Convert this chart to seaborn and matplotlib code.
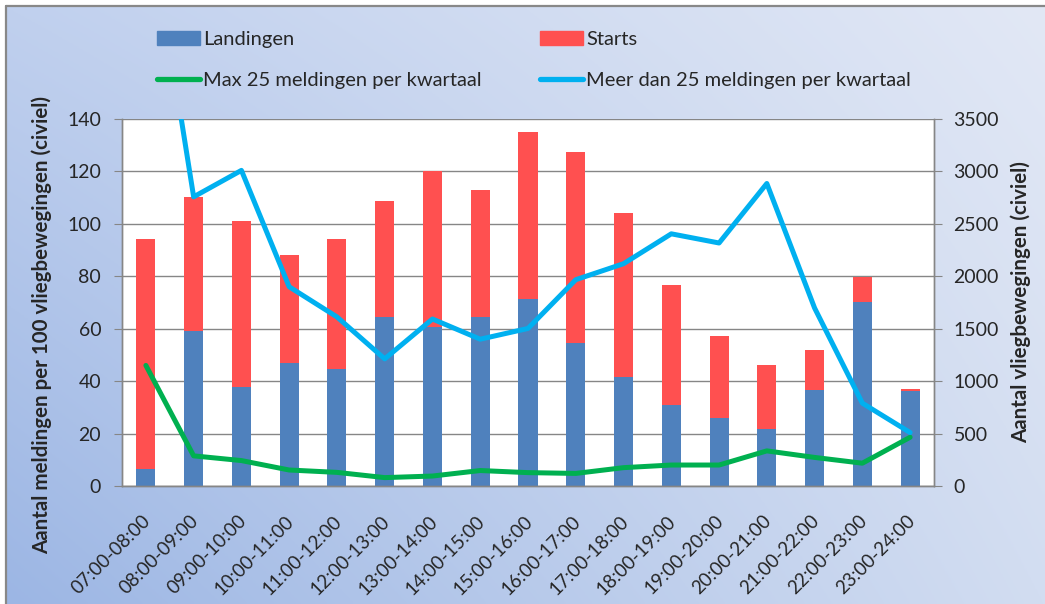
import numpy as np
import pandas as pd
import seaborn as sns
import matplotlib.pyplot as plt
import matplotlib.transforms as mtrans
from matplotlib.patches import Patch
from matplotlib.lines import Line2D

# data
uren = ['07:00-08:00', '08:00-09:00', '09:00-10:00', '10:00-11:00', '11:00-12:00',
        '12:00-13:00', '13:00-14:00', '14:00-15:00', '15:00-16:00', '16:00-17:00',
        '17:00-18:00', '18:00-19:00', '19:00-20:00', '20:00-21:00', '21:00-22:00',
        '22:00-23:00', '23:00-24:00']
landingen = [159, 1480, 945, 1175, 1117, 1610, 1521, 1610, 1782, 1359,
             1044, 773, 652, 541, 917, 1750, 910]
starts = [2196, 1276, 1579, 1028, 1238, 1108, 1487, 1216, 1591, 1824,
          1559, 1140, 777, 614, 381, 246, 13]
max25 = [46, 11.5, 9.7, 6.1, 5.2, 3.2, 3.8, 5.9, 5.1, 4.8,
         7.0, 8.0, 8.0, 13.4, 10.9, 8.7, 18.6]
meer25 = [225, 110.3, 120.4, 76.0, 64.5, 48.5, 63.7, 56.0, 60.1, 78.7,
          84.8, 96.2, 92.7, 115.4, 67.9, 31.6, 20.4]

df = pd.DataFrame({'uur': uren, 'landingen': landingen,
                   'totaal': np.add(landingen, starts),
                   'max25': max25, 'meer25': meer25})

sns.set_style('white')
plt.rcParams['font.family'] = ['Lato', 'DejaVu Sans']

BLAUW = '#4F81BD'
ROOD = '#FF5050'
GROEN = '#00B050'
CYAAN = '#00B0F0'
GRIJS = '#868686'
W, H = 1045, 604

fig = plt.figure(figsize=(W / 100, H / 100), dpi=100)
fig.patch.set_facecolor('white')

# achtergrond verloop
bg = fig.add_axes([7 / W, 0, 1 - 7 / W, 1 - 7 / H], zorder=-10)
tx, ty = np.meshgrid(np.linspace(0, 1, 300), np.linspace(0, 1, 200))
bl = np.array([156, 182, 228]) / 255
tl = np.array([192, 208, 238]) / 255
br = np.array([210, 221, 241]) / 255
tr = np.array([226, 232, 245]) / 255
img = ((1 - tx) * (1 - ty))[..., None] * bl + ((1 - tx) * ty)[..., None] * tl \
    + (tx * (1 - ty))[..., None] * br + (tx * ty)[..., None] * tr
bg.imshow(img, origin='lower', aspect='auto', extent=[0, 1, 0, 1])
bg.axis('off')

fig.add_artist(Line2D([6 / W, 1], [1 - 6 / H] * 2, transform=fig.transFigure, color='#888888', lw=1.6))
fig.add_artist(Line2D([6 / W] * 2, [0, 1 - 6 / H], transform=fig.transFigure, color='#888888', lw=1.6))

ax = fig.add_axes([122 / W, 1 - 486 / H, 812 / W, 367 / H])
ax.set_facecolor('white')
ax2 = ax.twinx()

# staven (rechter as)
sns.barplot(data=df, x='uur', y='totaal', color=ROOD, width=0.4, saturation=1,
            errorbar=None, linewidth=0, ax=ax)
sns.barplot(data=df, x='uur', y='landingen', color=BLAUW, width=0.4, saturation=1,
            errorbar=None, linewidth=0, ax=ax)

# lijnen (linker as)
sns.lineplot(data=df, x='uur', y='max25', color=GROEN, lw=3.6, sort=False, ax=ax2,
             solid_joinstyle='round', solid_capstyle='round')
sns.lineplot(data=df, x='uur', y='meer25', color=CYAAN, lw=3.6, sort=False, ax=ax2,
             solid_joinstyle='round', solid_capstyle='round')

ax.set_ylim(0, 3500)
ax.set_yticks(range(0, 3501, 500))
ax2.set_ylim(0, 140)
ax2.set_yticks(range(0, 141, 20))
ax.set_xlim(-0.5, 16.5)

ax.yaxis.tick_right()
ax.yaxis.set_label_position('right')
ax2.yaxis.tick_left()
ax2.yaxis.set_label_position('left')

ax.set_axisbelow(True)
ax.yaxis.grid(True, color=GRIJS, lw=1)
ax.xaxis.grid(False)

for a in (ax, ax2):
    for s in a.spines.values():
        s.set_color(GRIJS)
        s.set_linewidth(1)
    a.spines['top'].set_visible(False)

ax.set_xticks(range(len(uren)))
ax.set_xticklabels(uren, rotation=45, ha='right', rotation_mode='anchor')
ax.set_xticks(np.arange(-0.5, len(uren), 1), minor=True)
ax.tick_params(axis='x', which='major', length=0, labelsize=13.5, pad=19)
ax.tick_params(axis='x', which='minor', length=6, color=GRIJS, direction='out')
ax.tick_params(axis='y', length=6, color=GRIJS, direction='out', labelsize=14, pad=8)
ax2.tick_params(axis='y', length=6, color=GRIJS, direction='out', labelsize=14, pad=9)
shift = mtrans.ScaledTranslation(-4 / 100, 0, fig.dpi_scale_trans)
for lab in ax.get_xticklabels():
    lab.set_transform(lab.get_transform() + shift)

ax.set_xlabel('')
ax.set_ylabel('Aantal vliegbewegingen (civiel)', fontsize=14.8, fontweight='bold')
ax.yaxis.set_label_coords(1.0948, 0.5)
ax2.set_ylabel('Aantal meldingen per 100 vliegbewegingen (civiel)', fontsize=14.8, fontweight='bold')
ax2.yaxis.set_label_coords(-0.086, 0.44)

# legenda
kw = dict(loc='upper left', frameon=False, fontsize=14.5, handlelength=2.15,
          handletextpad=0.15, labelspacing=1.2, borderpad=0, borderaxespad=0)
h1 = [Patch(color=BLAUW), Line2D([], [], color=GROEN, lw=3.8, solid_capstyle='round')]
h2 = [Patch(color=ROOD), Line2D([], [], color=CYAAN, lw=3.8, solid_capstyle='round')]
fig.legend(h1, ['Landingen', 'Max 25 meldingen per kwartaal'],
           bbox_to_anchor=(157 / W, 1 - 31 / H), **kw)
fig.legend(h2, ['Starts', 'Meer dan 25 meldingen per kwartaal'],
           bbox_to_anchor=(540 / W, 1 - 31 / H), **kw)

fig.savefig('out.png', dpi=100)
